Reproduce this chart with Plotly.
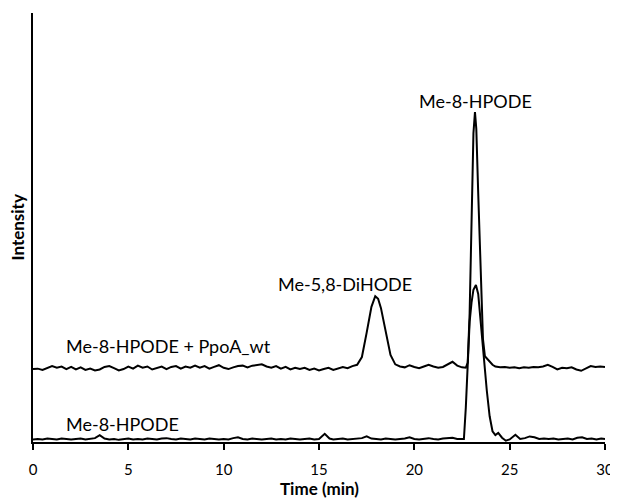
import plotly.graph_objects as go

# ---- data ----
time_top = [0, 0.25, 0.5, 0.75, 1.0, 1.25, 1.5, 1.75, 2.0, 2.25, 2.5, 2.75, 3.0, 3.25, 3.5, 3.75,
            4.0, 4.25, 4.5, 4.75, 5.0, 5.25, 5.5, 5.75, 6.0, 6.25, 6.5, 6.75, 7.0, 7.25, 7.5, 7.75,
            8.0, 8.25, 8.5, 8.75, 9.0, 9.25, 9.5, 9.75, 10.0, 10.25, 10.5, 10.75, 11.0, 11.25, 11.5, 11.75,
            12.0, 12.25, 12.5, 12.75, 13.0, 13.25, 13.5, 13.75, 14.0, 14.25, 14.5, 14.75, 15.0, 15.25,
            15.5, 15.75, 16.0, 16.25, 16.5, 16.75, 17.0, 17.25, 17.5, 17.75, 17.95, 18.1, 18.25, 18.5,
            18.75, 19.0, 19.25, 19.5, 19.75, 20.0, 20.25, 20.5, 20.75, 21.0, 21.25, 21.5, 21.75, 22.0,
            22.25, 22.5, 22.7, 22.8, 22.9, 23.0, 23.1, 23.18, 23.25, 23.35, 23.5, 23.6, 23.7, 23.8,
            23.9, 24.1, 24.25, 24.5, 24.75, 25.0, 25.25, 25.5, 25.75, 26.0, 26.25, 26.5, 26.75, 27.0,
            27.25, 27.5, 27.75, 28.0, 28.25, 28.5, 28.75, 29.0, 29.25, 29.5, 29.75, 30.0]
signal_top = [17.0, 17.1, 16.8, 17.3, 17.7, 17.3, 17.6, 17.0, 17.5, 16.9, 17.4, 16.8, 17.1, 16.7, 16.9, 17.5,
              17.7, 17.2, 16.7, 17.0, 17.6, 17.1, 17.8, 17.3, 17.6, 16.9, 17.3, 17.6, 17.0, 17.5, 17.7, 17.1,
              17.6, 17.3, 17.8, 17.3, 17.7, 17.1, 17.5, 17.9, 17.3, 17.0, 17.4, 17.7, 17.8, 17.4, 17.8, 17.9,
              18.1, 17.6, 17.3, 17.7, 17.1, 17.5, 16.9, 17.3, 17.0, 17.3, 16.8, 17.1, 16.7, 17.0,
              17.3, 16.8, 17.1, 17.5, 17.2, 17.7, 18.0, 19.8, 25.5, 31.5, 34.0, 33.4, 31.2, 26.0,
              20.3, 18.1, 17.6, 17.4, 17.9, 17.5, 17.2, 17.6, 18.0, 17.6, 17.3, 17.5, 18.2, 18.7,
              17.8, 17.4, 17.3, 18.5, 30.0, 55.0, 72.0, 76.9, 73.0, 58.0, 35.0, 24.0, 20.0, 19.5,
              18.8, 18.0, 17.6, 17.4, 17.5, 17.3, 17.4, 17.2, 17.4, 17.3, 17.5, 17.4, 17.6, 18.0,
              17.5, 16.9, 17.3, 17.2, 17.4, 16.9, 16.6, 17.1, 17.7, 17.5, 17.6, 17.5]

time_bottom = [0, 0.25, 0.5, 0.75, 1.0, 1.25, 1.5, 1.75, 2.0, 2.25, 2.5, 2.75, 3.0, 3.25, 3.5, 3.75,
               4.0, 4.25, 4.5, 4.75, 5.0, 5.25, 5.5, 5.75, 6.0, 6.25, 6.5, 6.75, 7.0, 7.25, 7.5, 7.75,
               8.0, 8.25, 8.5, 8.75, 9.0, 9.25, 9.5, 9.75, 10.0, 10.25, 10.5, 10.75, 11.0, 11.25, 11.5, 11.75,
               12.0, 12.25, 12.5, 12.75, 13.0, 13.25, 13.5, 13.75, 14.0, 14.25, 14.5, 14.75, 15.0, 15.3,
               15.55, 15.75, 16.0, 16.25, 16.5, 16.75, 17.0, 17.25, 17.5, 17.75, 18.0, 18.25, 18.5, 18.75,
               19.0, 19.25, 19.5, 19.75, 20.0, 20.25, 20.5, 20.75, 21.0, 21.25, 21.5, 21.75, 22.0, 22.25,
               22.5, 22.6, 22.7, 22.8, 22.9, 23.0, 23.1, 23.23, 23.35, 23.5, 23.65, 23.8, 23.95, 24.1,
               24.25, 24.4, 24.6, 24.8, 25.0, 25.3, 25.55, 25.8, 26.05, 26.3, 26.55, 26.8, 27.05, 27.3,
               27.55, 27.8, 28.05, 28.3, 28.55, 28.8, 29.05, 29.3, 29.55, 29.8, 30.0]
signal_bottom = [0.6, 0.7, 0.6, 0.8, 0.7, 0.6, 0.8, 0.7, 0.6, 0.7, 0.8, 0.6, 0.7, 0.9, 1.6, 0.8,
                 0.6, 0.7, 0.5, 0.7, 0.8, 0.6, 0.7, 0.6, 0.8, 0.7, 0.6, 0.8, 0.9, 0.7, 0.6, 0.8,
                 0.7, 0.6, 0.8, 0.7, 0.6, 0.8, 0.7, 0.6, 0.7, 0.6, 0.9, 1.1, 0.7, 0.6, 0.8, 0.7,
                 0.6, 0.7, 0.8, 0.6, 0.7, 0.6, 0.8, 0.7, 0.6, 0.7, 0.8, 0.6, 0.7, 1.9,
                 0.8, 0.6, 0.7, 0.8, 0.6, 0.7, 0.8, 0.9, 1.3, 0.8, 0.7, 0.6, 0.8, 0.7,
                 0.6, 0.7, 0.8, 1.1, 0.7, 0.6, 0.8, 0.9, 0.7, 0.6, 0.8, 0.9, 1.0, 0.7,
                 0.8, 0.7, 8.0, 20.0, 28.0, 32.5, 35.5, 36.6, 34.5, 27.0, 19.0, 12.0, 6.0, 2.5,
                 1.6, 2.1, 1.0, 0.3, 0.6, 1.7, 0.7, 0.9, 1.3, 1.1, 0.7, 0.8, 0.7, 0.8,
                 0.6, 0.7, 0.8, 0.6, 1.0, 1.1, 0.7, 0.8, 0.6, 0.8, 0.7]

x_ticks = [0, 5, 10, 15, 20, 25, 30]

labels_text = ["Me-8-HPODE", "Me-5,8-DiHODE", "Me-8-HPODE + PpoA_wt", "Me-8-HPODE"]
labels_x = [23.23, 16.36, 1.63, 1.63]
labels_y = [79.6, 36.9, 22.4, 4.2]
labels_anchor = ["center", "center", "left", "left"]

FONT = "Lato"

fig = go.Figure()
fig.add_trace(go.Scatter(x=time_top, y=signal_top, mode="lines",
                         line=dict(color="black", width=2), showlegend=False))
fig.add_trace(go.Scatter(x=time_bottom, y=signal_bottom, mode="lines",
                         line=dict(color="black", width=2), showlegend=False))

for t, x, y, a in zip(labels_text, labels_x, labels_y, labels_anchor):
    fig.add_annotation(x=x, y=y, xref="x", yref="y", text=t, showarrow=False,
                       xanchor=a, yanchor="middle",
                       font=dict(family=FONT, size=18, color="black"))

fig.add_annotation(x=0, y=0.5, xref="paper", yref="paper", text="<b>Intensity</b>",
                   textangle=-90, showarrow=False, xanchor="center", yanchor="middle",
                   xshift=-16, font=dict(family=FONT, size=17, color="black"))
fig.add_annotation(x=0.5, y=0, xref="paper", yref="paper", text="<b>Time (min)</b>",
                   showarrow=False, xanchor="center", yanchor="middle",
                   yshift=-46, font=dict(family=FONT, size=17, color="black"))

# page body has an 8px offset, so the figure is sized/margined to compensate
fig.update_layout(
    width=610, height=490,
    margin=dict(l=25, r=13, t=5, b=56),
    paper_bgcolor="white", plot_bgcolor="white",
    xaxis=dict(range=[0, 30], tickvals=x_ticks, ticktext=[str(v) for v in x_ticks],
               showgrid=False, zeroline=False, showline=True, linecolor="black", linewidth=1.5,
               ticks="outside", ticklen=6, tickwidth=1.5, tickcolor="black",
               ticklabelstandoff=7, ticklabeloverflow="allow", automargin=False,
               tickfont=dict(family=FONT, size=15, color="black")),
    yaxis=dict(range=[0, 100], showgrid=False, zeroline=False, showline=True,
               linecolor="black", linewidth=1.5, showticklabels=False, ticks=""),
)

fig.write_html("out.html")
